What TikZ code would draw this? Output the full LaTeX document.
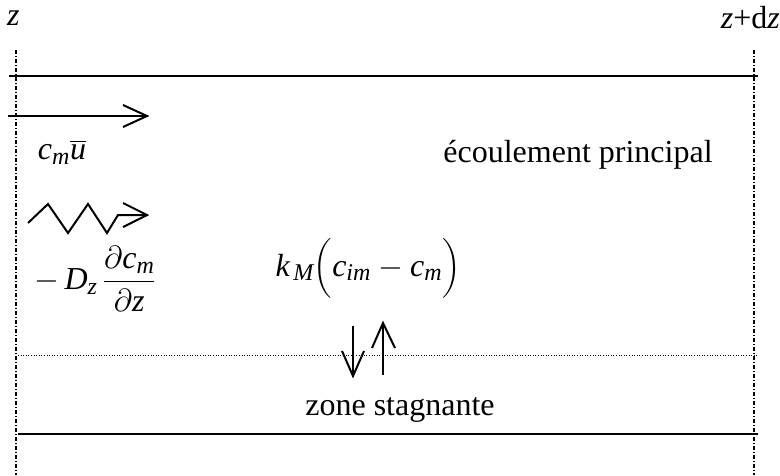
\RequirePackage{fix-cm}
\documentclass[tikz,border=0pt]{standalone}
\usepackage{amsmath}
\usepackage{fontspec}
\setmainfont{Liberation Serif}
\newcommand\msub[1]{\text{\fontsize{24}{28}\selectfont\itshape #1}}
\begin{document}
\begin{tikzpicture}[x=1pt,y=-1pt,
  lbl/.style={inner sep=0pt, font=\fontsize{32}{38}\selectfont},
  wall/.style={line width=1.6pt},
  axis/.style={line width=1.2pt, dash pattern=on 4pt off 2pt on 1pt off 2pt},
  flow/.style={line width=2pt}]
\useasboundingbox (0,0) rectangle (780,475);
% section lines
\coordinate (la) at (16,50); \coordinate (lb) at (16,475);
\coordinate (ra) at (754,50); \coordinate (rb) at (754,475);
\draw[axis] (la) -- (lb);
\draw[axis] (ra) -- (rb);
\coordinate (t1) at (9,76); \coordinate (t2) at (758,76);
\draw[wall] (t1) -- (t2);
\coordinate (b1) at (18,434); \coordinate (b2) at (758,434);
\draw[wall] (b1) -- (b2);
\coordinate (d1) at (18,355); \coordinate (d2) at (757,355);
\draw[line width=0.6pt, dotted] (d1) -- (d2);
% labels
\node[lbl, anchor=west] (z) at (7,18) {\itshape z};
\node[lbl, anchor=east] (zdz) at (780,18) {\itshape z\upshape +d\itshape z};
% advection arrow
\coordinate (a1) at (8,116); \coordinate (a2) at (147,116);
\draw[flow] (a1) -- (a2);
\draw[flow] (123,105) -- (a2) -- (123,127);
\node[lbl] (adv) at (62,152) {$\text{\itshape c}_{\msub{m}}\overline{\text{\itshape u}}$};
% dispersion zigzag
\coordinate (zz) at (147,215);
\draw[flow] (28,223) -- (48,204) -- (68,233) -- (88,204) -- (107,233) -- (118,215) -- (zz);
\draw[flow] (123,203) -- (zz) -- (123,227);
\node[lbl] (disp) at (95,279) {$-\,\text{\itshape D}_{\msub{z}}\,\dfrac{\partial\text{\itshape c}_{\msub{m}}}{\partial\text{\itshape z}}$};
% main text
\node[lbl] (main) at (578,155) {écoulement principal};
\node[lbl] (exch) at (368,268) {$\text{\itshape k}_{\,\msub{M}}\Bigl(\text{\itshape c}_{\msub{im}}-\text{\itshape c}_{\msub{m}}\Bigr)$};
% exchange arrows
\coordinate (dn1) at (353,326); \coordinate (dn2) at (353,376);
\draw[flow] (dn1) -- (dn2);
\draw[flow] (342,351) -- (dn2) -- (364,351);
\coordinate (up1) at (383,375); \coordinate (up2) at (383,323);
\draw[flow] (up1) -- (up2);
\draw[flow] (372,348) -- (up2) -- (395,348);
\node[lbl] (stag) at (400,410) {zone stagnante};
\end{tikzpicture}
\end{document}
